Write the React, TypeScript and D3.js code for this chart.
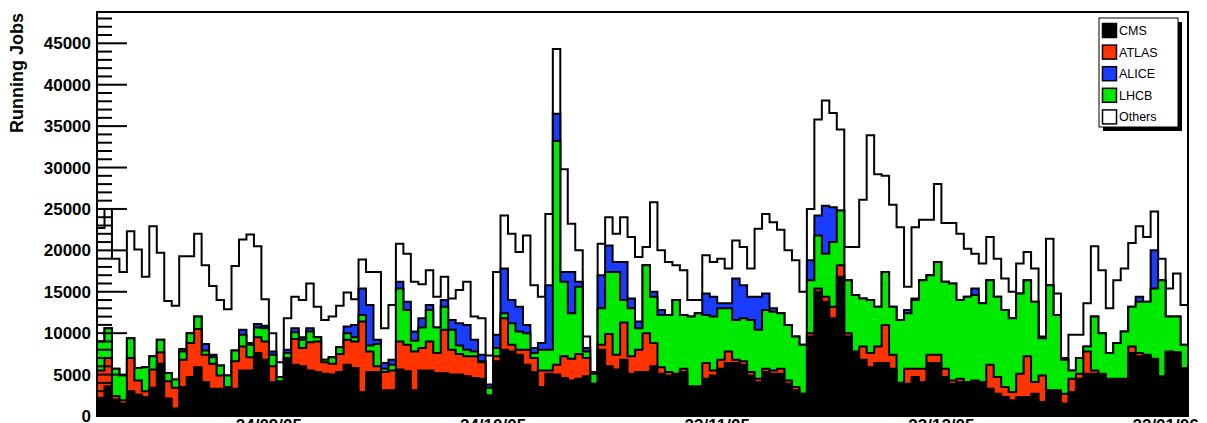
import React from 'react';
import * as d3 from 'd3';

// running jobs per day, stacked: CMS, ATLAS, LHCB, ALICE, Others
const W = 1207;
const H = 423;
const FONT = '"Liberation Sans", Arial, Helvetica, sans-serif';

const startDay = new Date(Date.UTC(2005, 8, 1));
const nDays = 146;

const cms = [
  2200, 3600, 2000, 1500, 3000, 2600, 2300, 3400, 6300, 2100,
  900, 3500, 4700, 5900, 4100, 3300, 3300, 3300, 3300, 5500,
  5500, 7600, 6800, 4100, 4000, 6800, 6200, 6000, 5500, 5300,
  5100, 5000, 5300, 6200, 5800, 2900, 5300, 5300, 3100, 3100,
  5600, 5400, 3100, 5500, 5500, 5200, 5200, 5000, 5000, 4800,
  4600, 4500, 2300, 6600, 8000, 7800, 7400, 6200, 5300, 3500,
  5100, 5000, 4600, 4300, 4500, 4800, 3900, 8000, 6000, 5600,
  6800, 5100, 5300, 5300, 6000, 5100, 4900, 4900, 5300, 3500,
  3500, 4500, 4900, 5700, 6400, 6400, 6200, 4900, 4100, 5300,
  5100, 5100, 3900, 3100, 2700, 9600, 15000, 13800, 11800, 16800,
  9600, 7600, 6800, 5900, 6400, 6400, 5700, 3900, 3900, 4700,
  4100, 6400, 6400, 4700, 3900, 4100, 4100, 4100, 4100, 3300,
  2700, 2300, 1900, 2300, 2300, 2700, 1700, 3100, 2900, 1500,
  2900, 4500, 5100, 5100, 4900, 4300, 4300, 4300, 7600, 7200,
  7200, 6800, 4700, 7600, 7600, 5700
];

const atlas = [
  3300, 3400, 400, 400, 4000, 1700, 700, 2200, 1400, 2100,
  2500, 3300, 4100, 4600, 3300, 3000, 1600, 200, 3300, 2900,
  1600, 1900, 2200, 1900, 200, 200, 3100, 2200, 3400, 3700,
  1400, 1300, 2200, 3000, 3200, 8500, 2500, 700, 2200, 2400,
  3400, 3200, 4700, 2700, 3500, 2400, 5200, 3000, 2500, 2400,
  2600, 2000, 200, 600, 3800, 800, 600, 1800, 1700, 2000,
  400, 1200, 2600, 2600, 3000, 2200, 0, 600, 3900, 1800,
  4500, 2100, 2700, 4700, 2800, 800, 400, 200, 400, 100,
  100, 1900, 600, 1100, 1400, 400, 400, 400, 400, 400,
  400, 600, 400, 400, 0, 400, 400, 600, 1400, 1400,
  400, 200, 1600, 1700, 2000, 4600, 1700, 100, 1800, 1000,
  1600, 1000, 1000, 1000, 400, 400, 0, 200, 0, 2900,
  2000, 1200, 1000, 2800, 4900, 1400, 3200, 0, 200, 1200,
  1600, 600, 2700, 400, 200, 200, 200, 200, 800, 400,
  200, 100, 100, 200, 100, 100
];

const lhcb = [
  3500, 3600, 3300, 3000, 2400, 1500, 2900, 1600, 1500, 1000,
  1000, 1000, 1200, 1500, 500, 800, 1200, 1400, 1300, 1400,
  1500, 1200, 1600, 1400, 500, 600, 800, 1000, 1300, 500,
  300, 800, 800, 800, 500, 800, 700, 2700, 400, 700,
  6400, 4200, 1300, 2500, 3800, 3100, 2800, 2400, 1000, 800,
  600, 100, 900, 1000, 600, 2600, 2200, 2000, 600, 2500,
  2500, 27000, 9000, 5500, 8100, 800, 1200, 4400, 7500, 10000,
  2700, 5800, 2600, 8200, 5600, 6300, 6900, 8900, 6500, 8400,
  8800, 5800, 6500, 6200, 5200, 4800, 5200, 6300, 5900, 7100,
  7100, 6700, 6700, 6100, 5900, 6400, 6400, 5200, 7800, 6600,
  6400, 6800, 5800, 6400, 4800, 6400, 5800, 7600, 6700, 8300,
  10700, 9600, 11200, 10500, 11700, 9500, 10300, 10300, 9500, 10200,
  9700, 9300, 8900, 9700, 9200, 9700, 4500, 12700, 9100, 4100,
  1000, 1900, 600, 6500, 4900, 3100, 4300, 5700, 4800, 6200,
  6400, 8500, 11600, 4200, 4300, 2800
];

const alice = [
  0, 0, 0, 0, 0, 0, 0, 0, 0, 0,
  0, 300, 0, 0, 800, 300, 0, 0, 0, 600,
  200, 400, 300, 400, 0, 400, 500, 300, 400, 0,
  0, 0, 0, 800, 1500, 3200, 4900, 500, 700, 600,
  800, 1000, 1100, 1100, 600, 0, 800, 1200, 2700, 3000,
  1400, 800, 400, 1600, 5400, 2800, 3000, 1000, 600, 800,
  7800, 3300, 1200, 5000, 600, 400, 0, 4000, 3200, 1200,
  4600, 1200, 800, 0, 600, 600, 0, 0, 0, 0,
  0, 2600, 2400, 600, 600, 5000, 4000, 2800, 4000, 2000,
  400, 0, 0, 0, 0, 2400, 2400, 5800, 4200, 0,
  0, 0, 0, 0, 0, 0, 0, 0, 400, 200,
  0, 0, 0, 0, 0, 0, 0, 800, 0, 0,
  0, 0, 0, 0, 0, 0, 0, 0, 0, 0,
  0, 0, 0, 0, 0, 0, 0, 0, 0, 600,
  0, 4600, 0, 0, 0, 0
];

const others = [
  13700, 14400, 13300, 12500, 12900, 14300, 10900, 15700, 10500, 8700,
  8900, 11200, 9300, 10000, 9500, 8300, 7900, 8000, 10200, 10900,
  13100, 9400, 3200, 2200, 1800, 3800, 3800, 4500, 5400, 3700,
  4800, 4900, 5000, 4100, 3100, 3500, 4000, 8200, 4200, 6600,
  4600, 5800, 6000, 4100, 4200, 3700, 2800, 2600, 4000, 5200,
  2800, 4400, 3500, 7600, 6400, 8000, 6600, 10800, 7600, 5600,
  8600, 7800, 12400, 5800, 3800, 1400, 200, 3800, 3400, 3400,
  5400, 7400, 7800, 2200, 10800, 7200, 6400, 4200, 5400, 2000,
  1600, 4600, 4200, 5400, 4200, 4600, 4600, 3400, 8200, 9600,
  10400, 10100, 9000, 9200, 6400, 6200, 11600, 12700, 11400, 9800,
  4000, 5800, 11900, 19900, 16000, 11600, 12300, 11200, 2800, 8600,
  7300, 6700, 9400, 7100, 7300, 8000, 5800, 4200, 4800, 5200,
  4600, 3800, 3200, 3600, 3400, 4000, 200, 5600, 2600, 200,
  4300, 2800, 5200, 8500, 7600, 5400, 7600, 7600, 7700, 8500,
  7800, 4700, 2600, 3400, 5200, 4800
];

const series = [
  {key: 'cms', label: 'CMS', values: cms, color: '#000000'},
  {key: 'atlas', label: 'ATLAS', values: atlas, color: '#ff3300'},
  {key: 'lhcb', label: 'LHCB', values: lhcb, color: '#00ea00'},
  {key: 'alice', label: 'ALICE', values: alice, color: '#1a3cff'},
  {key: 'others', label: 'Others', values: others, color: '#ffffff'}
];
const legendOrder = ['cms', 'atlas', 'alice', 'lhcb', 'others'];

const xTickDates = ['2005-09-24', '2005-10-24', '2005-11-23', '2005-12-23', '2006-01-22'];
const yTickLabels = [0, 5000, 10000, 15000, 20000, 25000, 30000, 35000, 40000, 45000];
const yMax = 48780;

export default function App() {
  const left = 97;
  const right = 1188;
  const top = 12;
  const bottom = 416;

  const x = d3
    .scaleUtc()
    .domain([startDay, d3.utcDay.offset(startDay, nDays)])
    .range([left, right]);
  const y = d3.scaleLinear().domain([0, yMax]).range([bottom, top]);

  const rows = d3.range(nDays).map(i => {
    const r: any = {};
    series.forEach(s => (r[s.key] = s.values[i]));
    return r;
  });
  const stacked = d3.stack().keys(series.map(s => s.key))(rows);

  // each layer drawn as a full histogram from 0 up to its cumulative top
  const area = d3
    .area<[number, number]>()
    .x(p => p[0])
    .y0(y(0))
    .y1(p => p[1]);

  const layerPath = (layer: any) => {
    const pts: [number, number][] = [];
    layer.forEach((d: any, i: number) => {
      const yy = y(d[1]);
      pts.push([x(d3.utcDay.offset(startDay, i)), yy]);
      pts.push([x(d3.utcDay.offset(startDay, i + 1)), yy]);
    });
    return area(pts) || '';
  };

  const fmt = d3.utcFormat('%d/%m/%y');
  const minorTicks = d3.range(0, yMax, 1000);

  const legX = 1099;
  const legY = 18;
  const legW = 79;
  const legH = 109;
  const rowH = 21.6;

  return (
    <svg
      width={W}
      height={H}
      style={{position: 'absolute', left: 0, top: 0, background: '#fff'}}
      fontFamily={FONT}
    >
      <rect x={0} y={0} width={W} height={H} fill="#fff" />

      {stacked
        .slice()
        .reverse()
        .map(layer => {
          const s = series.find(d => d.key === layer.key)!;
          return (
            <path
              key={layer.key}
              d={layerPath(layer)}
              fill={s.color}
              stroke="#000"
              strokeWidth={2}
            />
          );
        })}

      {/* frame */}
      <rect
        x={left}
        y={top}
        width={right - left}
        height={bottom - top}
        fill="none"
        stroke="#000"
        strokeWidth={2}
      />

      {/* y axis ticks */}
      {minorTicks.map(v => {
        const major = v % 5000 === 0;
        return (
          <line
            key={'t' + v}
            x1={left}
            x2={left + (major ? 30 : 15)}
            y1={y(v)}
            y2={y(v)}
            stroke="#000"
            strokeWidth={2}
          />
        );
      })}
      {yTickLabels.map(v => (
        <text
          key={'yl' + v}
          x={91}
          y={y(v)}
          dy="0.36em"
          textAnchor="end"
          fontWeight="bold"
          fontSize={17}
          fill="#000"
        >
          {v}
        </text>
      ))}
      <text
        transform={`translate(23,${top + 1}) rotate(-90)`}
        textAnchor="end"
        fontWeight="bold"
        fontSize={18}
        fill="#000"
      >
        Running Jobs
      </text>

      {/* x axis labels (cut by the page bottom) */}
      {xTickDates.map(ds => {
        const dt = new Date(ds + 'T00:00:00Z');
        return (
          <text
            key={ds}
            x={x(dt)}
            y={431}
            textAnchor="middle"
            fontWeight="bold"
            fontSize={17}
            fill="#000"
          >
            {fmt(dt)}
          </text>
        );
      })}

      {/* legend */}
      <rect x={legX + 4} y={legY + 4} width={legW} height={legH} fill="#000" />
      <rect x={legX} y={legY} width={legW} height={legH} fill="#fff" stroke="#000" strokeWidth={1} />
      {legendOrder.map((k, i) => {
        const s = series.find(d => d.key === k)!;
        const cy = legY + 12.5 + i * rowH;
        return (
          <g key={'lg' + k}>
            <rect
              x={legX + 3.5}
              y={cy - 7}
              width={14}
              height={14}
              fill={s.color}
              stroke="#000"
              strokeWidth={1.5}
            />
            <text x={legX + 20} y={cy} dy="0.36em" fontSize={12.5} fill="#000">
              {s.label}
            </text>
          </g>
        );
      })}
    </svg>
  );
}
